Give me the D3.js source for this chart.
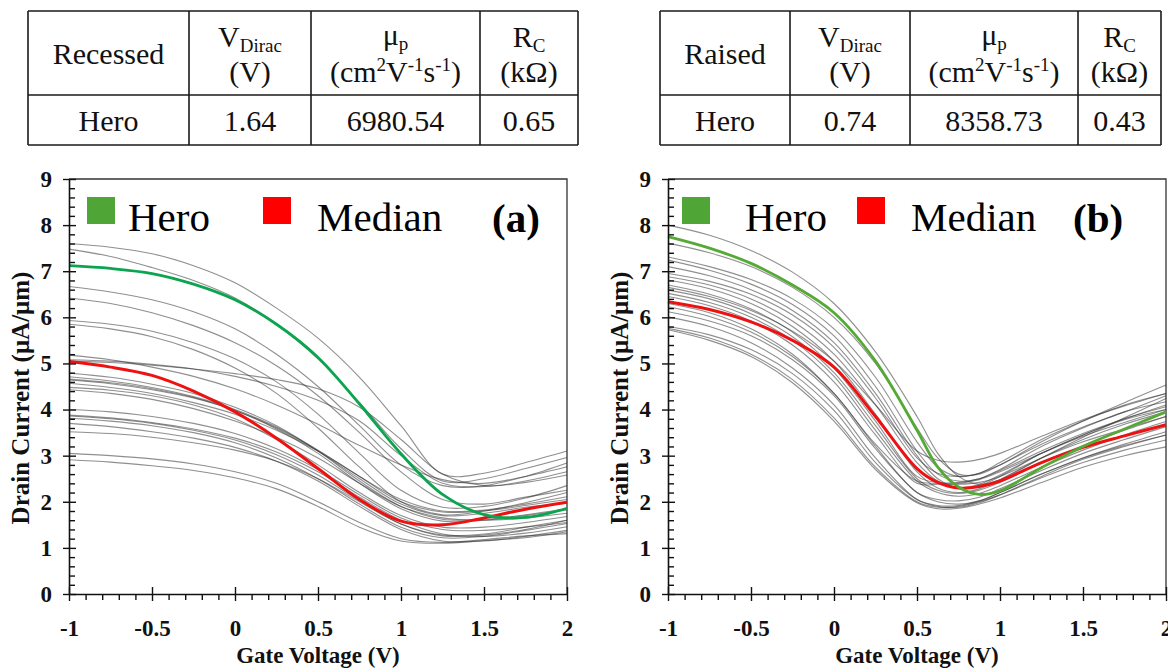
<!DOCTYPE html>
<html>
<head>
<meta charset="utf-8">
<script src="https://cdn.jsdelivr.net/npm/d3@7"></script>
<style>
  body { margin: 0; background: #fff; }
  svg text { font-family: "Liberation Serif", "Times New Roman", serif; }
  .tick text { font-family: "Liberation Serif", serif; font-weight: bold; font-size: 23px; fill: #111; }
</style>
</head>
<body>
<div id="chart"></div>
<script>
// Part 1: Data
// ==============================
// gate voltage sample points for each panel
var gateA = [-1, -0.75, -0.5, -0.25, 0, 0.25, 0.5, 0.75, 1, 1.25, 1.5, 1.75, 2];
var gateB = [-1, -0.75, -0.5, -0.25, 0, 0.25, 0.5, 0.625, 0.75, 0.875, 1, 1.25, 1.5, 1.75, 2];

// (a) recessed contacts
var heroA   = [7.12, 7.06, 6.95, 6.72, 6.38, 5.85, 5.13, 4.12, 3.04, 2.16, 1.72, 1.66, 1.86];
var medianA = [5.04, 4.92, 4.74, 4.40, 3.95, 3.38, 2.72, 2.05, 1.58, 1.50, 1.65, 1.84, 1.99];
var devicesA = [
  [7.60, 7.52, 7.38, 7.12, 6.75, 6.20, 5.55, 4.70, 3.65, 2.60, 2.62, 2.85, 3.10],
  [7.48, 7.32, 7.08, 6.80, 6.42, 5.85, 5.10, 4.15, 3.15, 2.45, 2.50, 2.72, 2.96],
  [6.67, 6.55, 6.38, 6.12, 5.75, 5.20, 4.50, 3.65, 2.80, 2.35, 2.35, 2.55, 2.84],
  [6.42, 6.30, 6.10, 5.82, 5.45, 4.95, 4.30, 3.50, 2.65, 2.05, 1.95, 2.10, 2.25],
  [5.93, 5.85, 5.70, 5.45, 5.10, 4.60, 3.90, 3.05, 2.25, 1.88, 1.90, 2.08, 2.35],
  [5.85, 5.75, 5.58, 5.30, 4.90, 4.35, 3.60, 2.75, 2.00, 1.72, 1.80, 1.98, 2.20],
  [5.18, 5.08, 4.92, 4.72, 4.45, 4.10, 3.68, 3.22, 2.80, 2.48, 2.40, 2.55, 2.76],
  [5.08, 5.05, 4.98, 4.88, 4.72, 4.50, 4.20, 3.75, 3.00, 2.40, 2.33, 2.45, 2.65],
  [5.05, 5.02, 4.96, 4.88, 4.78, 4.65, 4.45, 4.05, 3.35, 2.60, 2.35, 2.42, 2.58],
  [4.79, 4.70, 4.55, 4.35, 4.05, 3.65, 3.10, 2.45, 1.90, 1.62, 1.62, 1.72, 1.85],
  [4.71, 4.62, 4.48, 4.28, 4.00, 3.62, 3.12, 2.55, 2.05, 1.80, 1.82, 1.95, 2.11],
  [4.66, 4.58, 4.45, 4.26, 3.98, 3.58, 3.05, 2.40, 1.85, 1.58, 1.60, 1.70, 1.82],
  [4.64, 4.56, 4.43, 4.25, 3.98, 3.60, 3.10, 2.50, 1.95, 1.70, 1.75, 1.88, 1.97],
  [4.57, 4.48, 4.35, 4.15, 3.90, 3.55, 3.10, 2.55, 2.00, 1.78, 1.80, 1.92, 2.05],
  [4.48, 4.42, 4.30, 4.10, 3.80, 3.35, 2.80, 2.20, 1.70, 1.45, 1.45, 1.55, 1.68],
  [4.43, 4.35, 4.22, 4.02, 3.75, 3.40, 2.95, 2.40, 1.90, 1.65, 1.60, 1.65, 1.75],
  [4.00, 3.95, 3.85, 3.70, 3.48, 3.15, 2.70, 2.15, 1.65, 1.40, 1.38, 1.45, 1.55],
  [3.88, 3.82, 3.72, 3.58, 3.38, 3.08, 2.65, 2.10, 1.60, 1.30, 1.25, 1.32, 1.46],
  [3.86, 3.80, 3.70, 3.55, 3.34, 3.02, 2.58, 2.02, 1.52, 1.26, 1.28, 1.40, 1.60],
  [3.81, 3.75, 3.65, 3.50, 3.28, 2.95, 2.50, 1.95, 1.45, 1.22, 1.25, 1.38, 1.53],
  [3.70, 3.63, 3.52, 3.38, 3.18, 2.88, 2.45, 1.90, 1.40, 1.15, 1.15, 1.25, 1.38],
  [3.52, 3.48, 3.40, 3.28, 3.12, 2.88, 2.50, 2.00, 1.52, 1.28, 1.30, 1.45, 1.60],
  [3.05, 3.00, 2.93, 2.82, 2.65, 2.40, 2.00, 1.55, 1.20, 1.12, 1.18, 1.26, 1.31],
  [2.91, 2.86, 2.78, 2.68, 2.52, 2.28, 1.90, 1.45, 1.15, 1.10, 1.16, 1.22, 1.35]
];

// (b) raised contacts
var heroB   = [7.75, 7.50, 7.17, 6.70, 6.10, 5.05, 3.55, 2.75, 2.32, 2.16, 2.24, 2.74, 3.20, 3.58, 3.95];
var medianB = [6.34, 6.17, 5.90, 5.50, 4.92, 3.85, 2.72, 2.42, 2.30, 2.33, 2.45, 2.85, 3.18, 3.43, 3.67];
var devicesB = [
  [8.00, 7.78, 7.45, 6.98, 6.30, 5.25, 3.85, 3.05, 2.55, 2.38, 2.48, 2.95, 3.40, 3.82, 4.24],
  [7.61, 7.40, 7.10, 6.65, 6.00, 5.00, 3.60, 2.95, 2.60, 2.60, 2.80, 3.30, 3.75, 4.15, 4.53],
  [7.31, 7.10, 6.82, 6.40, 5.75, 4.70, 3.30, 2.75, 2.55, 2.62, 2.85, 3.35, 3.75, 4.10, 4.35],
  [7.24, 7.02, 6.72, 6.28, 5.60, 4.50, 3.10, 2.60, 2.45, 2.50, 2.70, 3.20, 3.60, 3.95, 4.17],
  [7.10, 6.90, 6.60, 6.15, 5.45, 4.35, 3.00, 2.50, 2.30, 2.35, 2.55, 3.05, 3.45, 3.80, 4.06],
  [6.95, 6.78, 6.50, 6.05, 5.35, 4.25, 2.95, 2.62, 2.55, 2.62, 2.80, 3.25, 3.62, 3.95, 4.30],
  [6.88, 6.70, 6.40, 5.92, 5.20, 4.10, 2.85, 2.45, 2.30, 2.38, 2.58, 3.05, 3.45, 3.78, 4.00],
  [6.81, 6.62, 6.30, 5.80, 5.05, 3.90, 2.65, 2.30, 2.20, 2.28, 2.48, 2.95, 3.35, 3.68, 3.95],
  [6.70, 6.50, 6.18, 5.68, 4.90, 3.75, 2.55, 2.42, 2.42, 2.50, 2.68, 3.10, 3.48, 3.80, 4.10],
  [6.65, 6.45, 6.15, 5.70, 5.05, 4.10, 3.10, 2.90, 2.86, 2.92, 3.05, 3.42, 3.78, 4.08, 4.35],
  [6.59, 6.40, 6.08, 5.58, 4.80, 3.65, 2.50, 2.25, 2.18, 2.25, 2.42, 2.85, 3.22, 3.55, 3.85],
  [6.52, 6.32, 6.00, 5.50, 4.72, 3.55, 2.45, 2.20, 2.12, 2.18, 2.35, 2.75, 3.12, 3.45, 3.74],
  [6.45, 6.25, 5.92, 5.40, 4.60, 3.45, 2.40, 2.38, 2.40, 2.48, 2.65, 3.05, 3.42, 3.72, 4.00],
  [6.30, 6.10, 5.75, 5.20, 4.35, 3.25, 2.45, 2.40, 2.38, 2.42, 2.55, 2.95, 3.30, 3.58, 3.85],
  [6.23, 6.02, 5.68, 5.15, 4.35, 3.20, 2.20, 2.05, 2.02, 2.10, 2.28, 2.68, 3.05, 3.35, 3.63],
  [6.12, 5.92, 5.60, 5.08, 4.30, 3.15, 2.20, 2.00, 1.95, 2.02, 2.20, 2.60, 2.95, 3.25, 3.52],
  [6.01, 5.80, 5.45, 4.90, 4.10, 2.95, 2.05, 1.90, 1.88, 1.98, 2.15, 2.55, 2.92, 3.20, 3.45],
  [5.80, 5.62, 5.30, 4.78, 3.98, 2.85, 2.05, 1.92, 1.92, 2.02, 2.20, 2.60, 2.95, 3.22, 3.45],
  [5.76, 5.55, 5.20, 4.65, 3.82, 2.75, 2.00, 1.88, 1.90, 2.00, 2.15, 2.52, 2.85, 3.12, 3.34],
  [5.73, 5.50, 5.15, 4.58, 3.75, 2.70, 1.98, 1.85, 1.86, 1.95, 2.08, 2.42, 2.75, 3.00, 3.19]
];

// axis ticks
var xTicks = [-1, -0.5, 0, 0.5, 1, 1.5, 2];
var xMinor = [-0.9, -0.8, -0.7, -0.6, -0.4, -0.3, -0.2, -0.1, 0.1, 0.2, 0.3, 0.4,
              0.6, 0.7, 0.8, 0.9, 1.1, 1.2, 1.3, 1.4, 1.6, 1.7, 1.8, 1.9];
var yTicks = [0, 1, 2, 3, 4, 5, 6, 7, 8, 9];
var yMinor = [];
yTicks.slice(0, -1).forEach(function(t) { [0.2, 0.4, 0.6, 0.8].forEach(function(f) { yMinor.push(+(t + f).toFixed(1)); }); });

// table values
var contactType = ["Recessed", "Raised"];
var heroLabel   = ["Hero", "Hero"];
var vDirac      = ["1.64", "0.74"];
var mobility    = ["6980.54", "8358.73"];
var contactRes  = ["0.65", "0.43"];
var panelTags   = ["(a)", "(b)"];

// Part 2: Plot area
// ==============================
var svgWidth = 1168, svgHeight = 670;
var svg = d3.select("#chart").append("svg")
  .attr("width", svgWidth)
  .attr("height", svgHeight);

var yTop = 179, yBottom = 594;
var panels = [
  { left: 69,  right: 567, gate: gateA, hero: heroA, median: medianA, devices: devicesA,
    heroColor: "#0aa54e", tableX: [28, 189, 311, 480, 578],
    legend: { green: 87, hero: 128, red: 263, median: 317, tag: 492 }, yTitleX: 29 },
  { left: 668, right: 1166, gate: gateB, hero: heroB, median: medianB, devices: devicesB,
    heroColor: "#55aa35", tableX: [660, 790, 910, 1078, 1161],
    legend: { green: 682, hero: 745, red: 857, median: 911, tag: 1073 }, yTitleX: 628 }
];

function drawTable(p, i) {
  var t = svg.append("g");
  var xs = p.tableX, ys = [11, 95, 145];
  xs.forEach(function(x) {
    t.append("line").attr("x1", x).attr("x2", x).attr("y1", ys[0]).attr("y2", ys[2]);
  });
  ys.forEach(function(y) {
    t.append("line").attr("x1", xs[0]).attr("x2", xs[xs.length - 1]).attr("y1", y).attr("y2", y);
  });
  t.selectAll("line").attr("stroke", "#1a1a1a").attr("stroke-width", 1.6);

  var cx = d3.range(4).map(function(k) { return (xs[k] + xs[k + 1]) / 2; });
  var fs = 30, small = 19;

  t.append("text").attr("x", cx[0]).attr("y", 64).text(contactType[i]);

  var v = t.append("text").attr("x", cx[1]).attr("y", 47);
  v.append("tspan").text("V");
  v.append("tspan").attr("font-size", small).attr("dy", 5).text("Dirac");
  t.append("text").attr("x", cx[1]).attr("y", 82).text("(V)");

  var mu = t.append("text").attr("x", cx[2]).attr("y", 45);
  mu.append("tspan").text("\u03bc");
  mu.append("tspan").attr("font-size", small).attr("dy", 5).text("p");
  var unit = t.append("text").attr("x", cx[2]).attr("y", 82);
  unit.append("tspan").text("(cm");
  unit.append("tspan").attr("font-size", small).attr("dy", -11).text("2");
  unit.append("tspan").attr("dy", 11).text("V");
  unit.append("tspan").attr("font-size", small).attr("dy", -11).text("-1");
  unit.append("tspan").attr("dy", 11).text("s");
  unit.append("tspan").attr("font-size", small).attr("dy", -11).text("-1");
  unit.append("tspan").attr("dy", 11).text(")");

  var r = t.append("text").attr("x", cx[3]).attr("y", 47);
  r.append("tspan").text("R");
  r.append("tspan").attr("font-size", small).attr("dy", 5).text("C");
  t.append("text").attr("x", cx[3]).attr("y", 82).text("(k\u03a9)");

  var row = [heroLabel[i], vDirac[i], mobility[i], contactRes[i]];
  row.forEach(function(s, k) {
    t.append("text").attr("x", cx[k]).attr("y", 131).text(s);
  });
  t.selectAll("text").attr("text-anchor", "middle").attr("font-size", function() {
    return d3.select(this).attr("font-size") || fs;
  }).attr("fill", "#111");
}

function drawPanel(p, i) {
  var g = svg.append("g");
  var xScale = d3.scaleLinear().domain([-1, 2]).range([p.left, p.right]);
  var yScale = d3.scaleLinear().domain([0, 9]).range([yBottom, yTop]);

  // frame (top + right)
  g.append("path")
    .attr("d", "M" + p.left + "," + yTop + "H" + p.right + "V" + yBottom)
    .attr("fill", "none").attr("stroke", "#333").attr("stroke-width", 1.3);

  // curves
  var line = d3.line()
    .x(function(d) { return xScale(d[0]); })
    .y(function(d) { return yScale(d[1]); })
    .curve(d3.curveCatmullRom.alpha(0.5));
  function pairs(vals) { return p.gate.map(function(v, k) { return [v, vals[k]]; }); }

  g.append("g").selectAll("path")
    .data(p.devices)
    .enter().append("path")
    .attr("d", function(d) { return line(pairs(d)); })
    .attr("fill", "none")
    .attr("stroke", "#333")
    .attr("stroke-opacity", 0.55)
    .attr("stroke-width", 1.1);

  g.append("path").attr("d", line(pairs(p.median)))
    .attr("fill", "none").attr("stroke", "#ee1111").attr("stroke-width", 3);
  g.append("path").attr("d", line(pairs(p.hero)))
    .attr("fill", "none").attr("stroke", p.heroColor).attr("stroke-width", 2.8);

  // x axis: labels + crossing major ticks + outer minor ticks
  g.append("g").attr("transform", "translate(0," + yBottom + ")")
    .call(d3.axisBottom(xScale).tickValues(xTicks).tickSize(7).tickSizeOuter(0)
      .tickPadding(19).tickFormat(function(d) { return String(d); }));
  g.append("g").attr("transform", "translate(0," + yBottom + ")")
    .call(d3.axisTop(xScale).tickValues(xTicks).tickSize(7).tickFormat(""))
    .select(".domain").remove();
  g.append("g").attr("transform", "translate(0," + yBottom + ")")
    .call(d3.axisBottom(xScale).tickValues(xMinor).tickSize(6).tickFormat(""))
    .select(".domain").remove();

  // y axis: labels + crossing major ticks + inner minor ticks
  g.append("g").attr("transform", "translate(" + p.left + ",0)")
    .call(d3.axisLeft(yScale).tickValues(yTicks).tickSize(6).tickSizeOuter(0)
      .tickPadding(11).tickFormat(function(d) { return String(d); }));
  g.append("g").attr("transform", "translate(" + p.left + ",0)")
    .call(d3.axisRight(yScale).tickValues(yTicks).tickSize(7).tickFormat(""))
    .select(".domain").remove();
  g.append("g").attr("transform", "translate(" + p.left + ",0)")
    .call(d3.axisRight(yScale).tickValues(yMinor).tickSize(6).tickFormat(""))
    .select(".domain").remove();

  g.selectAll(".domain").attr("stroke", "#111").attr("stroke-width", 1.6);
  g.selectAll(".tick line").attr("stroke", "#111").attr("stroke-width", 1.4);

  // axis titles
  g.append("text")
    .attr("x", (p.left + p.right) / 2).attr("y", 663)
    .attr("text-anchor", "middle")
    .attr("font-size", 23).attr("font-weight", "bold").attr("fill", "#111")
    .text("Gate Voltage (V)");
  g.append("text")
    .attr("transform", "translate(" + p.yTitleX + "," + 398 + ") rotate(-90)")
    .attr("text-anchor", "middle")
    .attr("font-size", 25).attr("font-weight", "bold").attr("fill", "#111")
    .text("Drain Current (\u03bcA/\u03bcm)");

  // legend
  var L = p.legend;
  g.append("rect").attr("x", L.green).attr("y", 197).attr("width", 28).attr("height", 27).attr("fill", "#4fa636");
  g.append("text").attr("x", L.hero).attr("y", 231).attr("font-size", 41).text("Hero");
  g.append("rect").attr("x", L.red).attr("y", 197).attr("width", 28).attr("height", 27).attr("fill", "#ff0000");
  g.append("text").attr("x", L.median).attr("y", 231).attr("font-size", 41).text("Median");
  g.append("text").attr("x", L.tag).attr("y", 232).attr("font-size", 41).attr("font-weight", "bold").text(panelTags[i]);
}

panels.forEach(function(p, i) {
  drawTable(p, i);
  drawPanel(p, i);
});
</script>
</body>
</html>
